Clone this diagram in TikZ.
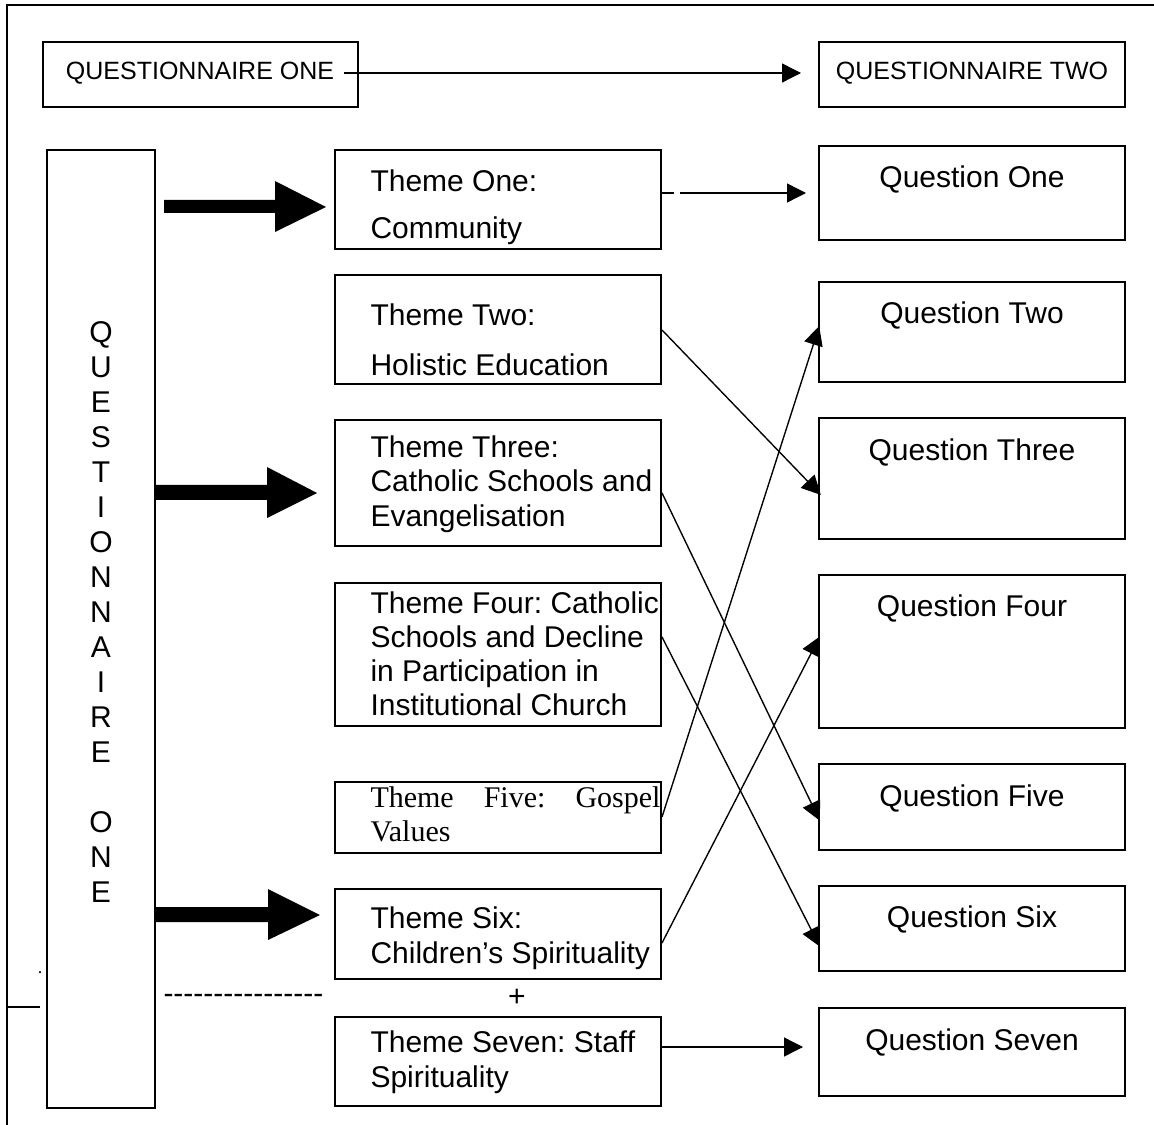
\documentclass[tikz,border=0pt]{standalone}
\usepackage{fontspec}
\setmainfont{Liberation Sans}
\newfontfamily\serifface{Liberation Serif}
\usetikzlibrary{arrows.meta,fit}
\newcommand\hy{-\kern0pt}
\frenchspacing
\begin{document}
\begin{tikzpicture}[x=0.4pt,y=-0.4pt,
  frame/.style={line width=0.8pt},
  box/.style={draw, line width=0.8pt, inner sep=0pt},
  lbl/.style={inner sep=0pt, font=\fontsize{12}{14}\selectfont},
  hdr/.style={inner sep=0pt, font=\fontsize{10}{12}\selectfont},
  themetext/.style={inner sep=0pt, anchor=north west, align=left},
  link/.style={line width=0.55pt, -{Triangle[length=7.6pt,width=7.6pt]}},
]
\useasboundingbox (0,0) rectangle (1154,1125);

% page frame
\draw[frame] (7,1125) -- (7,5) -- (1154,5);
\draw[frame] (7,1007) -- (40,1007);
\fill (40,972) circle (0.5pt);

% header boxes
\node[box, fit={(43,42) (358,107)}] (hdrA) {};
\node[box, fit={(819,42) (1125,107)}] (hdrB) {};
\node[hdr] (hdrAtxt) at (200,73) {QUESTIONNAIRE ONE};
\node[hdr] (hdrBtxt) at (972,73) {QUESTIONNAIRE TWO};

% vertical questionnaire box
\node[box, fit={(47,150) (155,1108)}] (qv) {};
\node[lbl, align=center] (qvtxt) at (101,612)
  {Q\\U\\E\\S\\T\\I\\O\\N\\N\\A\\I\\R\\E\\~\\O\\N\\E};

% theme boxes
\node[box, fit={(335,150) (661,249)}] (t1) {};
\node[box, fit={(335,275) (661,384)}] (t2) {};
\node[box, fit={(335,420) (661,546)}] (t3) {};
\node[box, fit={(335,583) (661,726)}] (t4) {};
\node[box, fit={(335,782) (661,853)}] (t5) {};
\node[box, fit={(335,889) (661,979)}] (t6) {};
\node[box, fit={(335,1017) (661,1106)}] (t7) {};

\node[themetext, font=\fontsize{12}{18.8}\selectfont] (t1txt) at (370,169) {Theme One:\\Community};
\node[themetext, font=\fontsize{12}{20}\selectfont] (t2txt) at (370,303) {Theme Two:\\Holistic Education};
\node[themetext, font=\fontsize{12}{13.8}\selectfont] (t3txt) at (370,435) {Theme Three:\\Catholic Schools and\\Evangelisation};
\node[themetext, font=\fontsize{12}{13.7}\selectfont] (t4txt) at (370,591) {Theme Four: Catholic\\Schools and Decline\\in Participation in\\Institutional Church};
\node[themetext, text width=116pt, font=\serifface\fontsize{12}{13.6}\selectfont] (t5txt) at (370,786) {Theme\hfill Five:\hfill Gospel\\Values};
\node[themetext, font=\fontsize{12}{14}\selectfont] (t6txt) at (370,906) {Theme Six:\\Children’s Spirituality};
\node[themetext, font=\fontsize{12}{14}\selectfont] (t7txt) at (370,1030) {Theme Seven: Staff\\Spirituality};

% question boxes
\node[box, fit={(819,146) (1125,240)}] (q1) {};
\node[box, fit={(819,282) (1125,382)}] (q2) {};
\node[box, fit={(819,418) (1125,539)}] (q3) {};
\node[box, fit={(819,575) (1125,728)}] (q4) {};
\node[box, fit={(819,764) (1125,850)}] (q5) {};
\node[box, fit={(819,886) (1125,971)}] (q6) {};
\node[box, fit={(819,1008) (1125,1096)}] (q7) {};

\node[lbl] (q1txt) at (972,179) {Question One};
\node[lbl] (q2txt) at (972,315) {Question Two};
\node[lbl] (q3txt) at (972,452) {Question Three};
\node[lbl] (q4txt) at (972,608) {Question Four};
\node[lbl] (q5txt) at (972,798) {Question Five};
\node[lbl] (q6txt) at (972,919) {Question Six};
\node[lbl] (q7txt) at (972,1042) {Question Seven};

% separator between themes six and seven
\node[lbl, anchor=base west] (dashes) at (163,1003) {\hy\hy\hy\hy\hy\hy\hy\hy\hy\hy\hy\hy\hy\hy\hy\hy};
\node[lbl, anchor=base] (plus) at (517,1006) {+};

% block arrows from the questionnaire box
\fill (164,200) -- (275,200) -- (275,181) -- (326,207) -- (275,232) -- (275,213) -- (164,213) -- cycle;
\fill (155,485) -- (267,485) -- (267,467) -- (317,493) -- (267,518) -- (267,500) -- (155,500) -- cycle;
\fill (155,907) -- (268,907) -- (268,889) -- (320,915) -- (268,940) -- (268,922) -- (155,922) -- cycle;

% connectors
\draw[link, shorten <=-6pt, shorten >=6.8pt] (hdrA.east |- 0,73) -- (hdrB.west |- 0,73);
\draw[link, dash pattern=on 4.8pt off 2.4pt on 200pt, shorten >=4.8pt] (t1.east |- 0,193) -- (q1.west |- 0,193);
\draw[link, shorten >=-1.6pt] (t2.east |- 0,330) -- (q3.west |- 0,492);
\draw[link, shorten >=-1.6pt] (t3.east |- 0,493) -- (q5.west |- 0,817);
\draw[link, shorten >=-1.6pt] (t4.east |- 0,637) -- (q6.west |- 0,943);
\draw[link, shorten >=-1.6pt] (t5.east |- 0,817) -- (q2.west |- 0,330);
\draw[link, shorten >=-1.6pt] (t6.east |- 0,943) -- (q4.west |- 0,640);
\draw[link, shorten >=6pt] (t7.east |- 0,1047) -- (q7.west |- 0,1047);
\end{tikzpicture}
\end{document}
